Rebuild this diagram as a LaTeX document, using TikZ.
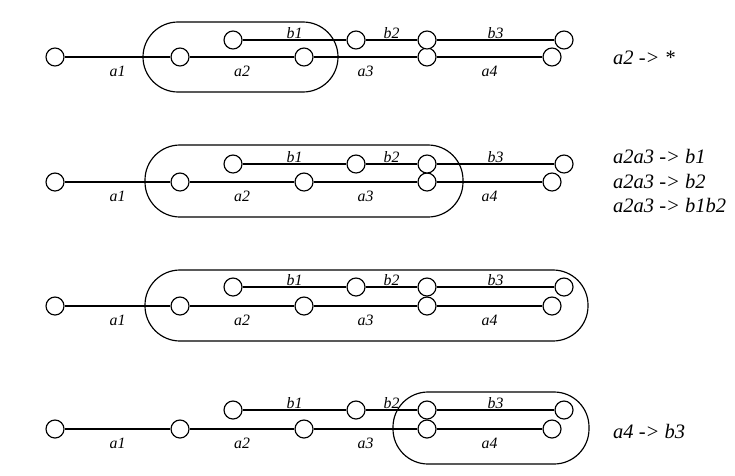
\documentclass[tikz,border=0pt]{standalone}
\usepackage{fontspec}
\setmainfont{Liberation Serif}

\begin{document}
\begin{tikzpicture}[
    x=0.03cm, y=-0.03cm,
    state/.style={
        circle, draw, line width=1pt, fill=white,
        minimum size=0.54cm, inner sep=0pt
    },
    edge/.style={line width=1pt},
    alab/.style={below=4pt, inner sep=3pt, font=\fontsize{13.5}{15}\selectfont\itshape},
    blab/.style={above=0pt, inner sep=0.5pt, font=\fontsize{13.5}{15}\selectfont\itshape},
    grp/.style={draw, line width=1pt, rounded corners=1.05cm},
    rule/.style={anchor=west, align=left, font=\fontsize{17.5}{20.5}\selectfont\itshape}
]
\useasboundingbox (0,0) rectangle (735,475);

% ==================== GROUPS ====================
\draw[grp] (143,22) rectangle (338,92);
\draw[grp] (145,145) rectangle (463,217);
\draw[grp] (145,270) rectangle (588,341);
\draw[grp] (393,392) rectangle (589,464);

% ==================== ROWS ====================
\foreach \r/\ya/\yb in {1/57/40, 2/182/164, 3/306/287, 4/429/410} {
    % a-Kette
    \node[state] (p0-\r) at (55,\ya) {};
    \node[state] (p1-\r) at (180,\ya) {};
    \node[state] (p2-\r) at (304,\ya) {};
    \node[state] (p3-\r) at (427,\ya) {};
    \node[state] (p4-\r) at (552,\ya) {};
    % b-Kette
    \node[state] (q1-\r) at (233,\yb) {};
    \node[state] (q2-\r) at (356,\yb) {};
    \node[state] (q3-\r) at (427,\yb) {};
    \node[state] (q4-\r) at (564,\yb) {};

    \draw[edge] (p0-\r) -- node[alab] {a1} (p1-\r);
    \draw[edge] (p1-\r) -- node[alab] {a2} (p2-\r);
    \draw[edge] (p2-\r) -- node[alab] {a3} (p3-\r);
    \draw[edge] (p3-\r) -- node[alab] {a4} (p4-\r);
    \draw[edge] (q1-\r) -- node[blab] {b1} (q2-\r);
    \draw[edge] (q2-\r) -- node[blab] {b2} (q3-\r);
    \draw[edge] (q3-\r) -- node[blab] {b3} (q4-\r);
}

% ==================== RULES (rechts) ====================
\node[rule] (rule1) at (609,58) {a2 -> *};
\node[rule] (rule2) at (609,181) {a2a3 -> b1\\a2a3 -> b2\\a2a3 -> b1b2};
\node[rule] (rule4) at (609,431) {a4 -> b3};

\end{tikzpicture}
\end{document}
